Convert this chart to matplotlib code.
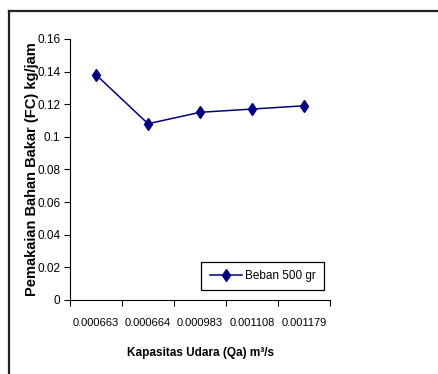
import matplotlib.pyplot as plt
from matplotlib.lines import Line2D

# Data
kapasitas = ["0.000663", "0.000664", "0.000983", "0.001108", "0.001179"]
fc_500 = [0.138, 0.108, 0.115, 0.117, 0.119]
y_ticks = [0, 0.02, 0.04, 0.06, 0.08, 0.1, 0.12, 0.14, 0.16]
y_labels = ["0", "0.02", "0.04", "0.06", "0.08", "0.1", "0.12", "0.14", "0.16"]

plt.rcParams['font.family'] = ['Liberation Sans', 'DejaVu Sans']

fig = plt.figure(figsize=(4.39, 3.74), dpi=100)
ax = fig.add_axes([0.1595, 0.198, 0.5923, 0.698])

x = list(range(len(kapasitas)))
ax.plot(x, fc_500, color="#000080", linewidth=1.1, marker="d",
        markersize=6.5, label="Beban 500 gr")

ax.set_xlim(-0.5, len(kapasitas) - 0.5)
ax.set_ylim(0, 0.16)
ax.set_xticks([i - 0.5 for i in range(len(kapasitas) + 1)])
ax.set_xticklabels([])
ax.set_xticks(x, minor=True)
ax.set_xticklabels(kapasitas, minor=True, fontsize=8)
ax.tick_params(axis="x", which="minor", length=0, pad=13)
ax.tick_params(axis="x", which="major", length=4, direction="out")
ax.set_yticks(y_ticks)
ax.set_yticklabels(y_labels, fontsize=8.5)
ax.tick_params(axis="y", length=4, direction="out", pad=3)

ax.spines["top"].set_visible(False)
ax.spines["right"].set_visible(False)

ax.set_xlabel("Kapasitas Udara (Qa) m³/s", fontsize=8.5, fontweight="bold",
              labelpad=14)
ax.set_ylabel("Pemakaian Bahan Bakar (FC) kg/jam", fontsize=10.5,
              fontweight="bold")
ax.yaxis.set_label_coords(-0.119, 0.5)

leg = ax.legend(loc="lower right", bbox_to_anchor=(0.977, 0.038),
                fancybox=False, framealpha=1, edgecolor="black",
                fontsize=8.5, handlelength=2.7, borderpad=0.7,
                handletextpad=0.3, borderaxespad=0)
leg.get_frame().set_linewidth(0.9)

# outer frame
fig.add_artist(Line2D([9 / 439, 1], [1 - 11 / 374, 1 - 11 / 374],
                      color="#222222", linewidth=1.6))
fig.add_artist(Line2D([9 / 439, 9 / 439], [0, 1 - 11 / 374],
                      color="#222222", linewidth=1.6))

fig.savefig("out.png", dpi=100)
